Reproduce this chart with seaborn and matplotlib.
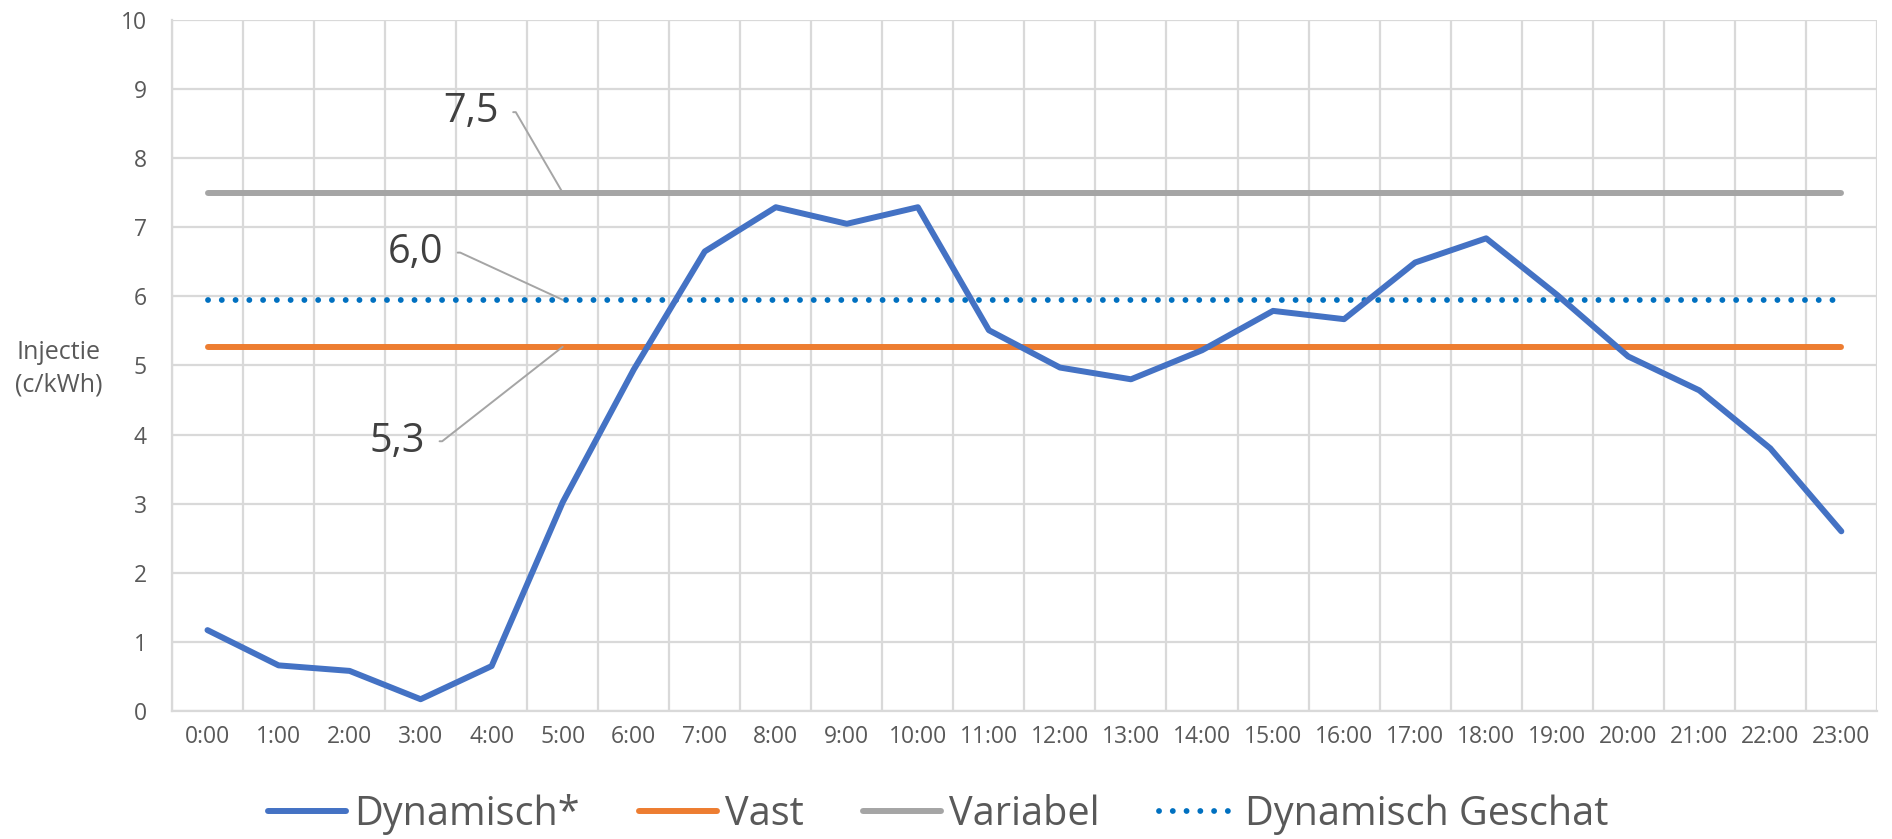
import matplotlib
matplotlib.use("Agg")
import matplotlib.pyplot as plt
import seaborn as sns
import numpy as np
import pandas as pd

# Hourly injection prices (c/kWh)
hours = [f"{h}:00" for h in range(24)]
dynamisch = [1.17, 0.66, 0.58, 0.17, 0.65, 3.02, 4.94, 6.65, 7.29, 7.05, 7.29, 5.51,
             4.97, 4.80, 5.22, 5.79, 5.67, 6.49, 6.84, 6.02, 5.13, 4.64, 3.80, 2.60]
vast_value = 5.27
variabel_value = 7.50
geschat_value = 5.95

series_names = ["Dynamisch*", "Vast", "Variabel", "Dynamisch Geschat"]
label_texts = {"Variabel": "7,5", "Dynamisch Geschat": "6,0", "Vast": "5,3"}

sns.set_theme(style="white")
plt.rcParams["font.family"] = ["Open Sans", "DejaVu Sans"]

text_color = "#595959"
grid_color = "#d9d9d9"

fig = plt.figure(figsize=(18.92, 8.39), dpi=100)
ax = fig.add_axes([0.0909, 0.1526, 0.9011, 0.8236])

x = np.arange(len(hours))
df = pd.DataFrame({
    "hour": x,
    "Dynamisch*": dynamisch,
    "Vast": [vast_value] * len(hours),
    "Variabel": [variabel_value] * len(hours),
    "Dynamisch Geschat": [geschat_value] * len(hours),
})

styles = {
    "Dynamisch*": dict(color="#4472C4", linewidth=4.3, solid_capstyle="round", solid_joinstyle="round"),
    "Vast": dict(color="#ED7D31", linewidth=4.3, solid_capstyle="round"),
    "Variabel": dict(color="#A5A5A5", linewidth=4.3, solid_capstyle="round"),
    "Dynamisch Geschat": dict(color="#0070C0", linewidth=4.2,
                              linestyle=(0, (0.01, 2.35)), dash_capstyle="round"),
}

# Draw the flat tariffs first, then the dynamic curve on top
for name in ["Vast", "Variabel", "Dynamisch Geschat", "Dynamisch*"]:
    sns.lineplot(data=df, x="hour", y=name, ax=ax, label=name, **styles[name])

if ax.get_legend() is not None:
    ax.get_legend().remove()

ax.set_xlim(-0.5, len(hours) - 0.5)
ax.set_ylim(0, 10)
ax.set_yticks(np.arange(0, 11, 1))
ax.set_xticks(x, hours)
ax.set_xticks(np.arange(-0.5, len(hours), 1), minor=True)

ax.grid(False)
ax.grid(True, axis="y", which="major", color=grid_color, linewidth=1.6, zorder=0)
ax.grid(True, axis="x", which="minor", color=grid_color, linewidth=1.6, zorder=0)
ax.set_axisbelow(True)

for side in ["top", "right"]:
    ax.spines[side].set_visible(False)
for side in ["left", "bottom"]:
    ax.spines[side].set_color(grid_color)
    ax.spines[side].set_linewidth(1.6)

ax.tick_params(axis="both", which="both", length=0, colors=text_color, labelsize=16.5)
ax.tick_params(axis="x", pad=10)
ax.tick_params(axis="y", pad=18)

ax.set_xlabel("")
ax.set_ylabel("Injectie\n(c/kWh)", rotation=0, fontsize=18, color=text_color,
              ha="center", va="center", linespacing=1.4)
ax.yaxis.set_label_coords(-0.0666, 0.495)

# Value callouts with leader lines, attached at 5:00
callout_hour = 5
offsets = {"Variabel": (-46, 58), "Dynamisch Geschat": (-86, 34), "Vast": (-99, -68)}
values = {"Variabel": variabel_value, "Dynamisch Geschat": geschat_value, "Vast": vast_value}
for name, txt in label_texts.items():
    ax.annotate(txt, xy=(callout_hour, values[name]), xytext=offsets[name],
                textcoords="offset points", ha="right", va="center",
                fontsize=28.5, color="#404040",
                arrowprops=dict(arrowstyle="-", color="#A5A5A5", lw=1.4,
                                relpos=(1, 0.5), shrinkA=8, shrinkB=0,
                                connectionstyle="arc,angleA=0,armA=17,angleB=0,armB=0,rad=0"))

handles, labels = ax.get_legend_handles_labels()
order = [labels.index(n) for n in series_names]
fig.legend([handles[i] for i in order], [labels[i] for i in order],
           loc="center", bbox_to_anchor=(0.496, 0.029), ncol=4, frameon=False,
           fontsize=28.5, labelcolor=text_color, handlelength=1.97,
           handletextpad=0.2, columnspacing=1.5)

fig.savefig("out.png", dpi=100, facecolor="white")
